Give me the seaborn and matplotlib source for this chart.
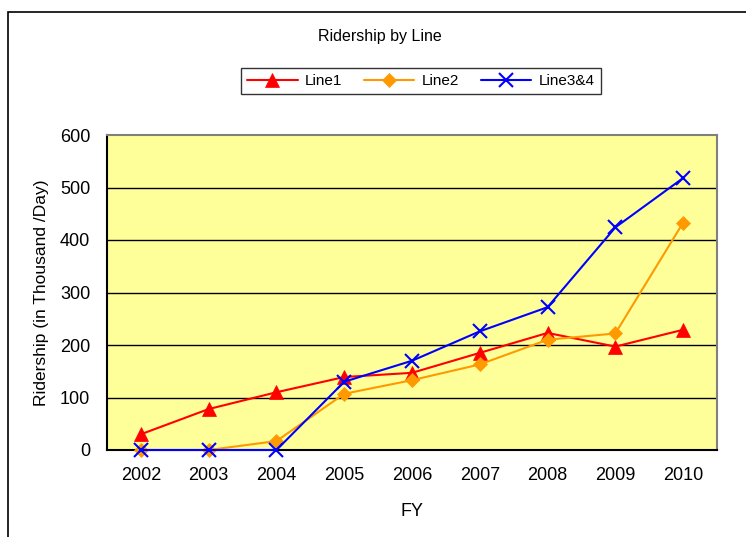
import matplotlib
matplotlib.use("Agg")
import matplotlib.pyplot as plt
import seaborn as sns
import pandas as pd
from matplotlib.patches import Rectangle

years = [2002, 2003, 2004, 2005, 2006, 2007, 2008, 2009, 2010]
line1 = [30, 78, 110, 139, 147, 185, 223, 197, 229]
line2 = [0, 0, 17, 107, 133, 163, 210, 222, 433]
line34 = [0, 0, 0, 130, 170, 226, 272, 424, 518]
series_names = ["Line1", "Line2", "Line3&4"]
yticks = [0, 100, 200, 300, 400, 500, 600]

df = pd.concat([
    pd.DataFrame({"FY": years, "Ridership": vals, "Line": name})
    for name, vals in zip(series_names, [line1, line2, line34])
])

sns.set_style("white")
plt.rcParams["font.family"] = ["Liberation Sans", "DejaVu Sans"]
plt.rcParams["text.color"] = "black"
plt.rcParams["axes.labelcolor"] = "black"
plt.rcParams["xtick.color"] = "black"
plt.rcParams["ytick.color"] = "black"

fig = plt.figure(figsize=(7.46, 5.37), dpi=100)
ax = fig.add_axes([107/746, 1-450/537, 610/746, 315/537])
ax.set_facecolor("#FFFF99")

palette = {"Line1": "#FF0000", "Line2": "#FF9900", "Line3&4": "#0000FF"}
styles = {"Line1": "^", "Line2": "D", "Line3&4": "x"}
sizes = {"Line1": 10, "Line2": 7, "Line3&4": 10}

for name in series_names:
    sub = df[df["Line"] == name]
    sns.lineplot(data=sub, x="FY", y="Ridership", ax=ax, color=palette[name],
                 marker=styles[name], markersize=sizes[name],
                 markeredgewidth=1.5 if name == "Line3&4" else 0.5,
                 markeredgecolor=palette[name], linewidth=1.5, label=name,
                 clip_on=False, zorder=3)

ax.set_xlim(2001.5, 2010.5)
ax.set_ylim(0, 600)
ax.set_yticks(yticks)
ax.set_yticklabels([str(t) for t in yticks], fontsize=13)
ax.set_xticks(years)
ax.set_xticklabels([str(y) for y in years], fontsize=13)
ax.tick_params(axis="x", which="major", length=0, pad=12)
ax.tick_params(axis="y", which="major", length=4, direction="out", pad=8, color="black")
ax.set_xticks([y + 0.5 for y in years[:-1]], minor=True)
ax.tick_params(axis="x", which="minor", length=5, direction="in", color="black", width=1)

for t in yticks[1:-1]:
    ax.axhline(t, color="black", linewidth=1, zorder=1)

for side in ["top", "right"]:
    ax.spines[side].set_color("#808080")
    ax.spines[side].set_linewidth(1.5)
for side in ["bottom", "left"]:
    ax.spines[side].set_color("black")
    ax.spines[side].set_linewidth(1.5)

ax.set_xlabel("FY", fontsize=13, labelpad=14)
ax.set_ylabel("Ridership (in Thousand /Day)", fontsize=12.5, labelpad=8)

if ax.get_legend():
    ax.get_legend().remove()
handles, labels = ax.get_legend_handles_labels()
leg = fig.legend(handles, labels, loc="center", bbox_to_anchor=(421/746, 1-81/537),
                 ncol=3, frameon=True, fancybox=False, fontsize=11,
                 handlelength=3.3, columnspacing=1.4, handletextpad=0.5,
                 borderpad=0.4, edgecolor="black")
leg.get_frame().set_linewidth(1)

fig.text(380/746, 1-37/537, "Ridership by Line", ha="center", va="center", fontsize=11.5)

fig.patches.append(Rectangle((8/746, -0.1), 2, 1 - 12/537 + 0.1, transform=fig.transFigure,
                             fill=False, edgecolor="black", linewidth=1.2, figure=fig))

fig.savefig("out.png", dpi=100)
